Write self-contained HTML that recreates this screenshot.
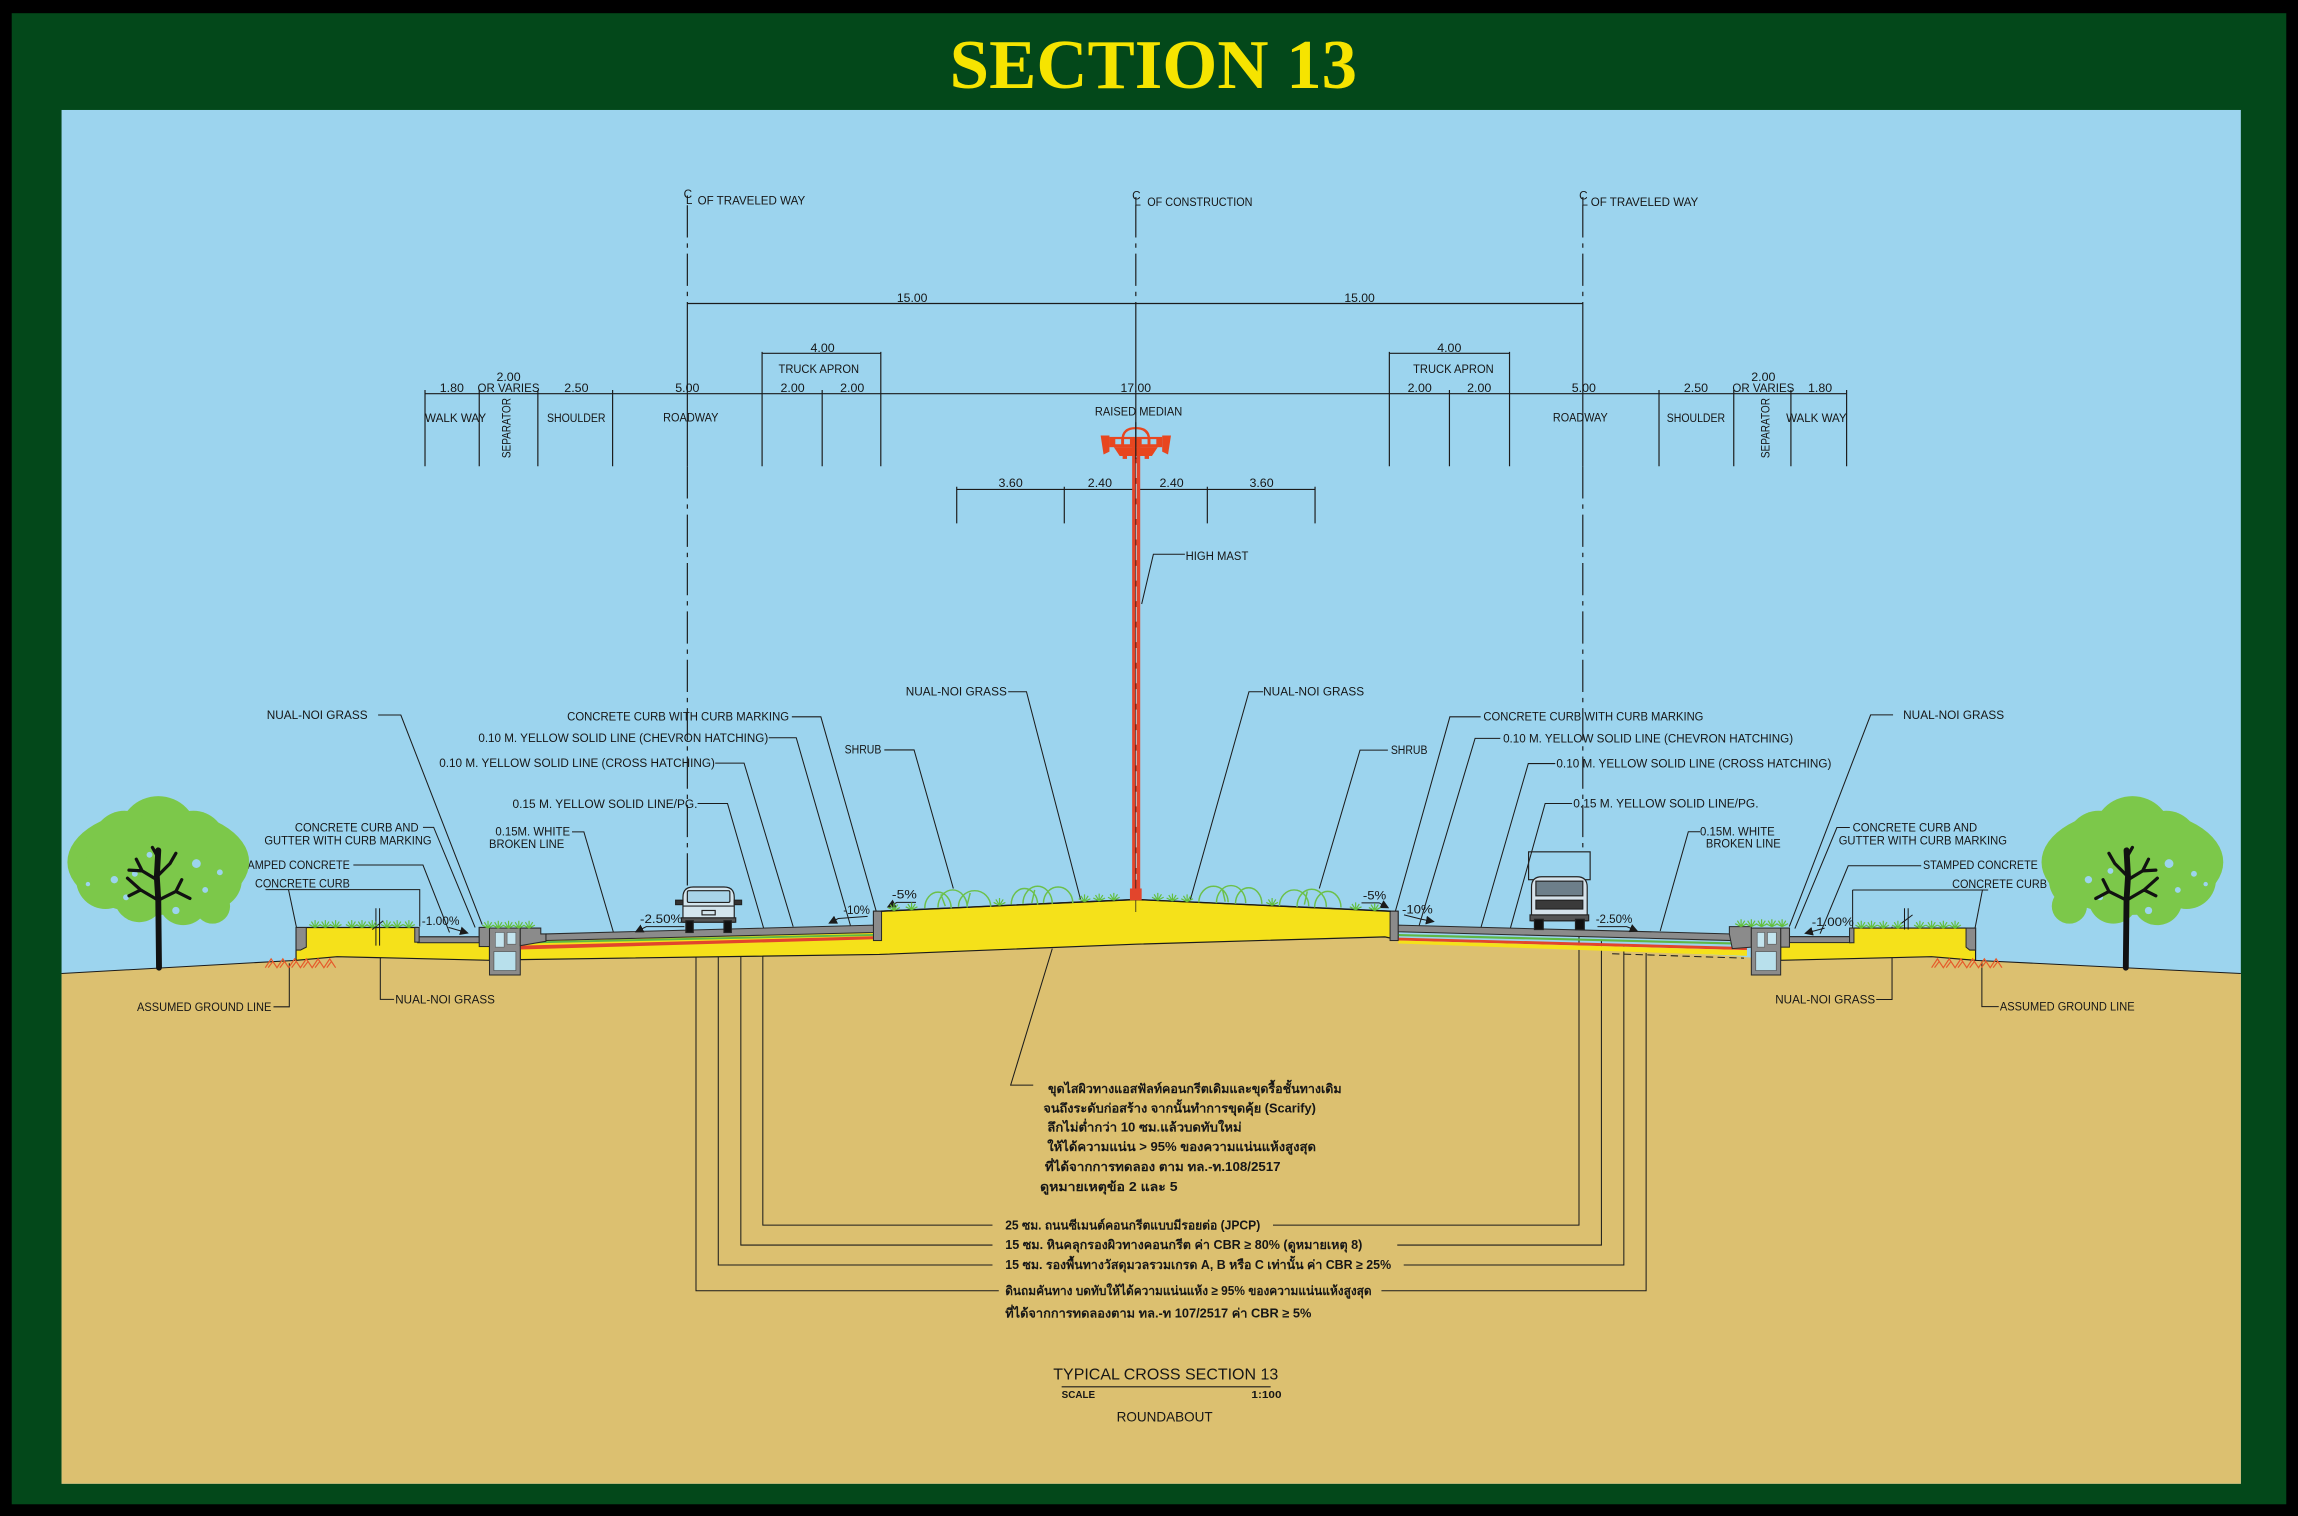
<!DOCTYPE html>
<html><head><meta charset="utf-8">
<style>
html,body{margin:0;padding:0;background:#000;}
svg{display:block;}
text{font-family:"Liberation Sans",sans-serif;fill:#161616;font-size:8px;}
.ln{stroke:#1b1b1b;stroke-width:0.7;fill:none;}
.th{font-family:"Liberation Sans","DejaVu Sans","Noto Sans CJK SC",sans-serif;font-size:8.5px;font-weight:bold;}
.g{fill:#8b8b8b;stroke:#2a2a2a;stroke-width:0.7;}
</style></head><body>
<svg width="2298" height="1516" viewBox="0 0 1568 1034" preserveAspectRatio="none" xmlns="http://www.w3.org/2000/svg">
<defs>
<g id="tuft"><path d="M0,0 L-2.5,-4 M0,0 L0,-5 M0,0 L2.5,-4 M0,0 L-4,-2 M0,0 L4,-2" stroke="#63bf3c" stroke-width="0.8" fill="none"/></g>
<marker id="ah" markerWidth="6" markerHeight="6" refX="5" refY="3" orient="auto" markerUnits="userSpaceOnUse"><path d="M0,0 L6,3 L0,6 Z" fill="#1b1b1b"/></marker>
</defs>
<!-- frame -->
<rect x="0" y="0" width="1568" height="1034" fill="#000"/>
<rect x="8" y="9" width="1552" height="1017" fill="#03481a"/>
<text x="787" y="60" text-anchor="middle" textLength="278" lengthAdjust="spacingAndGlyphs" style="font-family:'Liberation Serif',serif;font-weight:bold;font-size:48px;fill:#f6e400">SECTION 13</text>
<rect x="42" y="75" width="1487" height="937" fill="#9cd4ee"/>
<!-- ground -->
<polygon points="42,664 202,655 230,652.5 334,655 355,654.5 600,651 775,644 945,639 954,641 1182,652 1215,655 1318,652.5 1348,655 1529,664 1529,1012 42,1012" fill="#dcc070"/>
<polyline points="42,664 202,655" class="ln" stroke-width="1"/>
<polyline points="1348,655 1529,664" class="ln" stroke-width="1"/>

<!-- CL lines -->
<g stroke="#1b1b1b" stroke-width="0.8" fill="none">
<line x1="469" y1="140" x2="469" y2="207" stroke-dasharray="22 4 3 4"/>
<line x1="469" y1="207" x2="469" y2="318"/>
<line x1="469" y1="318" x2="469" y2="604" stroke-dasharray="22 4 3 4"/>
<line x1="775" y1="140" x2="775" y2="207" stroke-dasharray="22 4 3 4"/>
<line x1="775" y1="207" x2="775" y2="300"/>
<line x1="1080" y1="140" x2="1080" y2="207" stroke-dasharray="22 4 3 4"/>
<line x1="1080" y1="207" x2="1080" y2="318"/>
<line x1="1080" y1="318" x2="1080" y2="581" stroke-dasharray="22 4 3 4"/>
<!-- dims -->
<line x1="469" y1="207" x2="1080" y2="207"/>
<line x1="520" y1="241" x2="601" y2="241"/>
<line x1="948" y1="241" x2="1030" y2="241"/>
<line x1="290" y1="268.5" x2="1260" y2="268.5"/>
<path d="M290,266V318 M327,266V318 M367,266V318 M418,266V318 M520,240V318 M561,266V318 M601,240V318 M948,240V318 M989,266V318 M1030,240V318 M1132,266V318 M1183,266V318 M1222,266V318 M1260,266V318"/>
<line x1="652.8" y1="333.8" x2="897.3" y2="333.8"/>
<path d="M652.8,332V357 M726.2,332V357 M823.8,332V357 M897.3,332V357"/>
</g>
<!-- CL symbols -->
<g style="font-size:6px">
<text x="466.5" y="135">C</text><text x="468" y="139">L</text>
<text x="772.5" y="136">C</text><text x="774" y="140">L</text>
<text x="1077.5" y="136">C</text><text x="1079" y="140">L</text>
</g>
<text x="476" y="139.5" textLength="73.4" lengthAdjust="spacingAndGlyphs">OF TRAVELED WAY</text>
<text x="782.8" y="140.5" textLength="71.8" lengthAdjust="spacingAndGlyphs">OF CONSTRUCTION</text>
<text x="1085.4" y="140.5" textLength="73.4" lengthAdjust="spacingAndGlyphs">OF TRAVELED WAY</text>

<g text-anchor="middle">
<text x="622.4" y="206" textLength="20.8" lengthAdjust="spacingAndGlyphs">15.00</text>
<text x="927.7" y="206" textLength="20.8" lengthAdjust="spacingAndGlyphs">15.00</text>
<text x="561.3" y="240" textLength="16.5" lengthAdjust="spacingAndGlyphs">4.00</text>
<text x="988.9" y="240" textLength="16.5" lengthAdjust="spacingAndGlyphs">4.00</text>
<text x="558.7" y="254.5" textLength="55" lengthAdjust="spacingAndGlyphs">TRUCK APRON</text>
<text x="991.7" y="254.5" textLength="55" lengthAdjust="spacingAndGlyphs">TRUCK APRON</text>
<text x="308.3" y="267.5" textLength="16.5" lengthAdjust="spacingAndGlyphs">1.80</text>
<text x="347" y="260" textLength="16.5" lengthAdjust="spacingAndGlyphs">2.00</text>
<text x="347" y="267.5" textLength="42.3" lengthAdjust="spacingAndGlyphs">OR VARIES</text>
<text x="393.3" y="267.5" textLength="16.5" lengthAdjust="spacingAndGlyphs">2.50</text>
<text x="469" y="267.5" textLength="16.5" lengthAdjust="spacingAndGlyphs">5.00</text>
<text x="540.8" y="267.5" textLength="16.5" lengthAdjust="spacingAndGlyphs">2.00</text>
<text x="581.5" y="267.5" textLength="16.5" lengthAdjust="spacingAndGlyphs">2.00</text>
<text x="775" y="267.5" textLength="20.8" lengthAdjust="spacingAndGlyphs">17.00</text>
<text x="968.7" y="267.5" textLength="16.5" lengthAdjust="spacingAndGlyphs">2.00</text>
<text x="1009.3" y="267.5" textLength="16.5" lengthAdjust="spacingAndGlyphs">2.00</text>
<text x="1080.7" y="267.5" textLength="16.5" lengthAdjust="spacingAndGlyphs">5.00</text>
<text x="1157.2" y="267.5" textLength="16.5" lengthAdjust="spacingAndGlyphs">2.50</text>
<text x="1203.2" y="260" textLength="16.5" lengthAdjust="spacingAndGlyphs">2.00</text>
<text x="1203.2" y="267.5" textLength="42.3" lengthAdjust="spacingAndGlyphs">OR VARIES</text>
<text x="1241.9" y="267.5" textLength="16.5" lengthAdjust="spacingAndGlyphs">1.80</text>
<text x="689.6" y="332" textLength="16.5" lengthAdjust="spacingAndGlyphs">3.60</text>
<text x="750.5" y="332" textLength="16.5" lengthAdjust="spacingAndGlyphs">2.40</text>
<text x="799.4" y="332" textLength="16.5" lengthAdjust="spacingAndGlyphs">2.40</text>
<text x="860.8" y="332" textLength="16.5" lengthAdjust="spacingAndGlyphs">3.60</text>
</g>
<text x="290" y="288" textLength="41.7" lengthAdjust="spacingAndGlyphs">WALK WAY</text>
<text x="373.2" y="288" textLength="40" lengthAdjust="spacingAndGlyphs">SHOULDER</text>
<text x="452.5" y="287.5" textLength="37.7" lengthAdjust="spacingAndGlyphs">ROADWAY</text>
<text x="1059.6" y="287.5" textLength="37.4" lengthAdjust="spacingAndGlyphs">ROADWAY</text>
<text x="1137.3" y="288" textLength="39.8" lengthAdjust="spacingAndGlyphs">SHOULDER</text>
<text x="1218.7" y="288" textLength="41.3" lengthAdjust="spacingAndGlyphs">WALK WAY</text>
<text transform="translate(348.5,292) rotate(-90)" text-anchor="middle" textLength="41" lengthAdjust="spacingAndGlyphs">SEPARATOR</text>
<text transform="translate(1207.3,292) rotate(-90)" text-anchor="middle" textLength="41" lengthAdjust="spacingAndGlyphs">SEPARATOR</text>
<text x="747.1" y="283.5" textLength="59.6" lengthAdjust="spacingAndGlyphs">RAISED MEDIAN</text>
<text x="809" y="382" textLength="42.8" lengthAdjust="spacingAndGlyphs">HIGH MAST</text>
<polyline class="ln" points="808.5,378 787,378 779,412"/>

<!-- leaders left -->
<g class="ln">
<polyline points="258,487.7 273.5,487.7 329,630.6"/>
<polyline points="288.6,564.3 295.9,564.3 324.2,632.6"/>
<polyline points="241.1,590 288.6,590 306.7,636"/>
<polyline points="181.2,606.8 286.4,606.8 286.4,632"/>
<polyline points="196.9,607 202.3,632.6"/>
<polyline points="186.6,686.7 197.4,686.7 197.4,657"/>
<polyline points="268.9,681.6 259.5,681.6 259.5,632.6"/>
<polyline points="390.3,567.4 398.4,567.4 418.6,636"/>
<polyline points="476,548 496.4,548 521.1,633.2"/>
<polyline points="488,520.5 507.7,520.5 541.2,632"/>
<polyline points="524.5,503.2 543.3,503.2 580.5,632"/>
<polyline points="540.3,488.9 560.1,488.9 599.6,627.6"/>
<polyline points="603.4,511.5 623.7,511.5 650.5,606"/>
<polyline points="687.9,471.8 700.4,471.8 737.4,613.9"/>
<polyline points="861.9,471.8 852.2,471.8 812.1,614"/>
<polyline points="947,511.6 928,511.6 900.2,606"/>
<polyline points="1010.3,488.9 989.3,488.9 951.7,623"/>
<polyline points="1023.7,503.6 1006.5,503.6 968.1,632"/>
<polyline points="1061.2,520.8 1042.8,520.8 1010.3,633.3"/>
<polyline points="1072.7,548 1054.3,548 1030.6,633"/>
<polyline points="1160,567.3 1152,567.3 1132.8,635"/>
<polyline points="1291.7,487.6 1276.4,487.6 1220.9,632"/>
<polyline points="1262.2,564.4 1253.4,564.4 1224.7,633.3"/>
<polyline points="1310.9,590.5 1261.1,590.5 1241.9,636.8"/>
<polyline points="1264.1,607 1356.6,607"/>
<polyline points="1264.1,607 1264.1,633"/>
<polyline points="1352.7,607 1346.9,636.8"/>
<polyline points="1280.2,681.7 1291,681.7 1291,632"/>
<polyline points="1363.8,686.6 1352.3,686.6 1352.3,655.9"/>
</g>
<text x="182" y="490.5" textLength="68.8" lengthAdjust="spacingAndGlyphs">NUAL-NOI GRASS</text>
<text x="201.2" y="567" textLength="84.4" lengthAdjust="spacingAndGlyphs">CONCRETE CURB AND</text>
<text x="180.4" y="576" textLength="114.1" lengthAdjust="spacingAndGlyphs">GUTTER WITH CURB MARKING</text>
<text x="160" y="592.7" textLength="78.7" lengthAdjust="spacingAndGlyphs">STAMPED CONCRETE</text>
<text x="174" y="605.5" textLength="64.7" lengthAdjust="spacingAndGlyphs">CONCRETE CURB</text>
<text x="93.5" y="689.5" textLength="91.7" lengthAdjust="spacingAndGlyphs">ASSUMED GROUND LINE</text>
<text x="269.7" y="684.5" textLength="68" lengthAdjust="spacingAndGlyphs">NUAL-NOI GRASS</text>
<text x="338" y="570" textLength="51" lengthAdjust="spacingAndGlyphs">0.15M. WHITE</text>
<text x="333.7" y="578.5" textLength="51.3" lengthAdjust="spacingAndGlyphs">BROKEN LINE</text>
<text x="349.7" y="551" textLength="126.2" lengthAdjust="spacingAndGlyphs">0.15 M. YELLOW SOLID LINE/PG.</text>
<text x="299.7" y="523" textLength="188.1" lengthAdjust="spacingAndGlyphs">0.10 M. YELLOW SOLID LINE (CROSS HATCHING)</text>
<text x="326.4" y="506" textLength="197.8" lengthAdjust="spacingAndGlyphs">0.10 M. YELLOW SOLID LINE (CHEVRON HATCHING)</text>
<text x="387" y="491.5" textLength="151.4" lengthAdjust="spacingAndGlyphs">CONCRETE CURB WITH CURB MARKING</text>
<text x="576.3" y="514" textLength="25.1" lengthAdjust="spacingAndGlyphs">SHRUB</text>
<text x="618" y="474.5" textLength="69" lengthAdjust="spacingAndGlyphs">NUAL-NOI GRASS</text>
<text x="861.9" y="474.5" textLength="68.9" lengthAdjust="spacingAndGlyphs">NUAL-NOI GRASS</text>
<text x="949" y="514.3" textLength="25" lengthAdjust="spacingAndGlyphs">SHRUB</text>
<text x="1012.2" y="491.5" textLength="150.1" lengthAdjust="spacingAndGlyphs">CONCRETE CURB WITH CURB MARKING</text>
<text x="1025.6" y="506.3" textLength="197.9" lengthAdjust="spacingAndGlyphs">0.10 M. YELLOW SOLID LINE (CHEVRON HATCHING)</text>
<text x="1062" y="523.5" textLength="187.6" lengthAdjust="spacingAndGlyphs">0.10 M. YELLOW SOLID LINE (CROSS HATCHING)</text>
<text x="1073.5" y="550.7" textLength="126.4" lengthAdjust="spacingAndGlyphs">0.15 M. YELLOW SOLID LINE/PG.</text>
<text x="1160" y="570" textLength="51" lengthAdjust="spacingAndGlyphs">0.15M. WHITE</text>
<text x="1164" y="578" textLength="51" lengthAdjust="spacingAndGlyphs">BROKEN LINE</text>
<text x="1298.6" y="490.3" textLength="68.9" lengthAdjust="spacingAndGlyphs">NUAL-NOI GRASS</text>
<text x="1264.1" y="567" textLength="85" lengthAdjust="spacingAndGlyphs">CONCRETE CURB AND</text>
<text x="1254.6" y="576" textLength="114.8" lengthAdjust="spacingAndGlyphs">GUTTER WITH CURB MARKING</text>
<text x="1312.1" y="592.6" textLength="78.4" lengthAdjust="spacingAndGlyphs">STAMPED CONCRETE</text>
<text x="1332" y="605.7" textLength="64.7" lengthAdjust="spacingAndGlyphs">CONCRETE CURB</text>
<text x="1211.3" y="684.4" textLength="68.2" lengthAdjust="spacingAndGlyphs">NUAL-NOI GRASS</text>
<text x="1364.6" y="689.3" textLength="91.9" lengthAdjust="spacingAndGlyphs">ASSUMED GROUND LINE</text>

<!-- layer leader lines -->
<g class="ln">
<polyline points="520.5,636.7 520.5,835.6 677.2,835.6"/>
<polyline points="868.6,835.6 1077.4,835.6 1077.4,636"/>
<polyline points="505.5,642.4 505.5,849.2 677.2,849.2"/>
<polyline points="953.4,849.2 1092.7,849.2 1092.7,641.5"/>
<polyline points="490.1,646.2 490.1,862.8 677.2,862.8"/>
<polyline points="957.8,862.8 1108,862.8 1108,645.5"/>
<polyline points="474.9,652.5 474.9,880.4 681.5,880.4"/>
<polyline points="942.6,880.4 1123.2,880.4 1123.2,650"/>
<polyline points="718,647 689.6,740.1 705,740.1"/>
</g>
<text class="th" x="685.9" y="838.5" textLength="174" lengthAdjust="spacingAndGlyphs">25 ซม. ถนนซีเมนต์คอนกรีตแบบมีรอยต่อ (JPCP)</text>
<text class="th" x="685.9" y="852" textLength="243.7" lengthAdjust="spacingAndGlyphs">15 ซม. หินคลุกรองผิวทางคอนกรีต ค่า CBR ≥ 80%  (ดูหมายเหตุ 8)</text>
<text class="th" x="685.9" y="865.6" textLength="263.3" lengthAdjust="spacingAndGlyphs">15 ซม. รองพื้นทางวัสดุมวลรวมเกรด A, B หรือ C เท่านั้น ค่า CBR ≥ 25%</text>
<text class="th" x="685.9" y="883.2" textLength="250" lengthAdjust="spacingAndGlyphs">ดินถมคันทาง บดทับให้ได้ความแน่นแห้ง ≥ 95% ของความแน่นแห้งสูงสุด</text>
<text class="th" x="685.9" y="898.6" textLength="208.9" lengthAdjust="spacingAndGlyphs">ที่ได้จากการทดลองตาม ทล.-ท 107/2517 ค่า CBR ≥ 5%</text>

<text class="th" x="715.1" y="745.5" textLength="200.3" lengthAdjust="spacingAndGlyphs">ขุดไสผิวทางแอสฟัลท์คอนกรีตเดิมและขุดรื้อชั้นทางเดิม</text>
<text class="th" x="711.9" y="758.7" textLength="186" lengthAdjust="spacingAndGlyphs">จนถึงระดับก่อสร้าง จากนั้นทำการขุดคุ้ย (Scarify)</text>
<text class="th" x="714.6" y="771.7" textLength="132.6" lengthAdjust="spacingAndGlyphs">ลึกไม่ต่ำกว่า 10 ซม.แล้วบดทับใหม่</text>
<text class="th" x="714.6" y="785.2" textLength="183.3" lengthAdjust="spacingAndGlyphs">ให้ได้ความแน่น &gt; 95% ของความแน่นแห้งสูงสุด</text>
<text class="th" x="713" y="798.8" textLength="160.8" lengthAdjust="spacingAndGlyphs">ที่ได้จากการทดลอง ตาม ทล.-ท.108/2517</text>
<text class="th" x="709.6" y="812.5" textLength="93.9" lengthAdjust="spacingAndGlyphs">ดูหมายเหตุข้อ 2 และ 5</text>

<!-- bottom title -->
<text x="718.7" y="941" textLength="153.5" lengthAdjust="spacingAndGlyphs" style="font-size:11px">TYPICAL CROSS SECTION 13</text>
<line x1="724.4" y1="945.9" x2="867" y2="945.9" stroke="#1b1b1b" stroke-width="0.8"/>
<text x="724.4" y="953.5" textLength="22.8" lengthAdjust="spacingAndGlyphs" style="font-size:7px;font-weight:bold">SCALE</text>
<text x="853.9" y="953.5" textLength="20.5" lengthAdjust="spacingAndGlyphs" style="font-size:7px;font-weight:bold">1:100</text>
<text x="761.9" y="969.5" textLength="65.5" lengthAdjust="spacingAndGlyphs" style="font-size:9.5px">ROUNDABOUT</text>

<!-- ===== road structure ===== -->
<!-- central yellow body -->
<polygon points="355,640 596,634 596,621.5 601,621.5 775,613.5 949,621.5 954,621.5 954,641 945,639 775,644 600,651 355,654.5" fill="#f5e11a" stroke="#1b1b1b" stroke-width="0.8"/>
<!-- left pavement -->
<polygon points="372.5,637 596,631 596,636 372.5,641.5" class="g"/>
<polygon points="355,642.3 596,637 596,638.3 355,643.6" fill="#5fb845"/>
<polygon points="355,645 596,638.6 596,640.6 355,647.6" fill="#e2452c"/>
<rect x="596" y="621.5" width="5.5" height="20" class="g"/>
<!-- right pavement -->
<polygon points="954,631 1182,637 1182,641.5 954,635.5" class="g"/>
<polygon points="954,637 1192,643 1192,644.5 954,638.5" fill="#5fb845"/>
<polygon points="954,639.5 1192,646 1192,648 954,641.5" fill="#e2452c"/>
<polygon points="954,641.5 1192,648 1192,652 954,643.5" fill="#f5e11a"/>
<line x1="1100" y1="650.5" x2="1190" y2="653.5" stroke="#1b1b1b" stroke-width="0.7" stroke-dasharray="5 3"/>
<rect x="948.5" y="621.5" width="5.5" height="20" class="g"/>
<polyline points="601,621.5 775,613.5 949,621.5" fill="none" stroke="#1b1b1b" stroke-width="1"/>

<!-- left walkway -->
<polygon points="202,632.6 285,632.6 285,639 327,639 327,632.6 334,632.6 334,655 230,652.5 202,655" fill="#f5e11a" stroke="#1b1b1b" stroke-width="0.8"/>
<polygon points="202,632.6 209,632.6 209,646 205,648 202,648" class="g"/>
<rect x="285" y="639" width="42" height="4" class="g"/>
<rect x="283" y="632.6" width="3" height="10" class="g"/>
<rect x="327" y="632.6" width="7" height="13" class="g"/>
<rect x="334" y="633" width="21" height="32" class="g"/>
<rect x="337" y="649" width="15" height="13" fill="#b8e0ec" stroke="#555" stroke-width="0.5"/>
<rect x="338" y="636" width="6" height="10" fill="#c3e4ee" stroke="#555" stroke-width="0.4"/>
<rect x="346" y="636" width="6" height="8" fill="#c3e4ee" stroke="#555" stroke-width="0.4"/>
<polygon points="355,633 369,633 369,637 372.5,637 372.5,642 355,645" class="g"/>
<!-- right walkway -->
<polygon points="1215,633 1221,633 1221,638.9 1263,638.9 1263,633 1348,633 1348,655 1318,652.5 1215,655" fill="#f5e11a" stroke="#1b1b1b" stroke-width="0.8"/>
<rect x="1221" y="638.9" width="42" height="4" class="g"/>
<rect x="1262" y="633" width="3" height="10" class="g"/>
<rect x="1215" y="633" width="6" height="13" class="g"/>
<polygon points="1341.5,633 1348,633 1348,648 1344,648 1341.5,646" class="g"/>
<polygon points="1180,637 1180,632 1195,632 1195,646 1182,647" class="g"/>
<rect x="1195" y="633" width="20" height="32" class="g"/>
<rect x="1198" y="649" width="14" height="13" fill="#b8e0ec" stroke="#555" stroke-width="0.5"/>
<rect x="1199" y="636" width="5" height="10" fill="#c3e4ee" stroke="#555" stroke-width="0.4"/>
<rect x="1206" y="636" width="6" height="8" fill="#c3e4ee" stroke="#555" stroke-width="0.4"/>

<!-- breaks -->
<path d="M256.5,619.5V645 M259,619.5V645 M254,634 L261.5,628" class="ln"/>
<path d="M1299.5,619.5V634 M1302,619.5V634 M1297,630 L1305,624" class="ln"/>
<!-- ground hatch -->
<path d="M181,660 l4,-6 l4,6 l4,-6 l4,6 l4,-6 l4,6 l4,-6 l4,6 l4,-6 l4,6 l4,-6 l4,6 M183,660 l3,-4 M191,660 l3,-4 M199,660 l3,-4 M207,660 l3,-4 M215,660 l3,-4 M223,660 l3,-4" stroke="#e65a2a" stroke-width="0.8" fill="none"/>
<path d="M1318,660 l4,-6 l4,6 l4,-6 l4,6 l4,-6 l4,6 l4,-6 l4,6 l4,-6 l4,6 l4,-6 l4,6 M1320,660 l3,-4 M1328,660 l3,-4 M1336,660 l3,-4 M1344,660 l3,-4 M1352,660 l3,-4 M1360,660 l3,-4" stroke="#e65a2a" stroke-width="0.8" fill="none"/>

<!-- slope labels -->
<g style="font-size:7.5px">
<text x="436.7" y="629.5" textLength="29" lengthAdjust="spacingAndGlyphs">-2.50%</text>
<text x="575.4" y="623.5" textLength="18.2" lengthAdjust="spacingAndGlyphs">-10%</text>
<text x="608.6" y="613" textLength="17" lengthAdjust="spacingAndGlyphs">-5%</text>
<text x="929.9" y="613.5" textLength="16" lengthAdjust="spacingAndGlyphs">-5%</text>
<text x="956.6" y="623" textLength="21" lengthAdjust="spacingAndGlyphs">-10%</text>
<text x="1088.8" y="629.5" textLength="25" lengthAdjust="spacingAndGlyphs">-2.50%</text>
<text x="287.8" y="631" textLength="25.7" lengthAdjust="spacingAndGlyphs">-1.00%</text>
<text x="1236.2" y="631.5" textLength="28.7" lengthAdjust="spacingAndGlyphs">-1.00%</text>
</g>
<g class="ln">
<polyline points="467,632 441,632 434,635.5" marker-end="url(#ah)"/>
<polyline points="592,625 572,626.5 566,629.5" marker-end="url(#ah)"/>
<polyline points="625,615.5 612,615.5 606,618.5" marker-end="url(#ah)"/>
<polyline points="929,615.8 941,615.8 947,619" marker-end="url(#ah)"/>
<polyline points="958,624 970,627 978,628.5" marker-end="url(#ah)"/>
<polyline points="1090,632 1110,632 1117,635" marker-end="url(#ah)"/>
<polyline points="306,632.5 318.9,636.3" marker-end="url(#ah)"/>
<polyline points="1245,633 1232,636.5" marker-end="url(#ah)"/>
</g>

<!-- shrubs -->
<g stroke="#6cc04a" stroke-width="1" fill="none">
<path d="M631,619.5 a9,11 0 0 1 18,0 M640,619 a10,12 0 0 1 20,0 M654,618.5 a11,11 0 0 1 22,0 M645,618 l-3,-8 M660,617 l2,-8"/>
<path d="M690,617 a9,11 0 0 1 18,0 M698,616.5 a10,12 0 0 1 20,0 M712,616 a10,11 0 0 1 20,0 M704,616 l2,-9"/>
<path d="M818,615.5 a10,11 0 0 1 20,0 M830,616 a10,12 0 0 1 20,0 M843,616.5 a9,11 0 0 1 18,0 M836,615 l-2,-9"/>
<path d="M873,618 a10,11 0 0 1 20,0 M885,618.5 a10,12 0 0 1 20,0 M897,619 a9,11 0 0 1 18,0 M890,617 l2,-9"/>
</g>
<!-- grass tufts -->
<g>
<use href="#tuft" x="215" y="632.6"/><use href="#tuft" x="222" y="632.6"/><use href="#tuft" x="229" y="632.6"/><use href="#tuft" x="240" y="632.6"/><use href="#tuft" x="247" y="632.6"/><use href="#tuft" x="254" y="632.6"/><use href="#tuft" x="264" y="632.6"/><use href="#tuft" x="271" y="632.6"/><use href="#tuft" x="279" y="632.6"/>
<use href="#tuft" x="333" y="633"/><use href="#tuft" x="340" y="633"/><use href="#tuft" x="347" y="633"/><use href="#tuft" x="354" y="633"/><use href="#tuft" x="361" y="633"/>
<use href="#tuft" x="610" y="621"/><use href="#tuft" x="622" y="620.5"/><use href="#tuft" x="682" y="617.5"/><use href="#tuft" x="740" y="615"/><use href="#tuft" x="750" y="614.5"/><use href="#tuft" x="760" y="614"/><use href="#tuft" x="790" y="614"/><use href="#tuft" x="800" y="614.5"/><use href="#tuft" x="810" y="615"/><use href="#tuft" x="868" y="617.5"/><use href="#tuft" x="925" y="620.5"/><use href="#tuft" x="938" y="621"/>
<use href="#tuft" x="1188" y="632"/><use href="#tuft" x="1195" y="632"/><use href="#tuft" x="1202" y="632"/><use href="#tuft" x="1209" y="632"/><use href="#tuft" x="1216" y="632"/>
<use href="#tuft" x="1270" y="633"/><use href="#tuft" x="1277" y="633"/><use href="#tuft" x="1285" y="633"/><use href="#tuft" x="1295" y="633"/><use href="#tuft" x="1310" y="633"/><use href="#tuft" x="1318" y="633"/><use href="#tuft" x="1326" y="633"/><use href="#tuft" x="1334" y="633"/>
</g>

<!-- high mast -->
<rect x="772.5" y="300" width="5.5" height="313" fill="#e2452c"/>
<line x1="775.2" y1="302" x2="775.2" y2="600" stroke="#f3d2d2" stroke-width="1.2" stroke-dasharray="10 4"/>
<line x1="775" y1="300" x2="775" y2="622" stroke="#1b1b1b" stroke-width="0.5"/>
<rect x="771" y="606" width="8" height="8" fill="#e2452c"/>
<g fill="#e8461f">
<path d="M766,300 Q766,292 775,292 Q784,292 784,300" fill="none" stroke="#e8461f" stroke-width="1.6"/>
<rect x="757" y="298" width="36" height="7"/>
<polygon points="751,297 757,297 757,308 753,310"/>
<polygon points="793,297 799,297 797,310 793,308"/>
<polygon points="760,305 790,305 786,311 764,311"/>
<rect x="766" y="310" width="3" height="3"/><rect x="781" y="310" width="3" height="3"/>
</g>
<g fill="#9cd4ee">
<rect x="761" y="299.5" width="4" height="3.5"/><rect x="767" y="299.5" width="4" height="3.5"/><rect x="779" y="299.5" width="4" height="3.5"/><rect x="785" y="299.5" width="4" height="3.5"/>
</g>
<line x1="775" y1="288" x2="775" y2="313" stroke="#1b1b1b" stroke-width="0.8"/>

<!-- left van -->
<g stroke="#222" stroke-width="0.8">
<path d="M466,629 L466,612 Q466,605 473,605 L494,605 Q501,605 501,612 L501,629 Z" fill="#d3e5ee"/>
<rect x="469" y="607.5" width="29" height="8" rx="1" fill="#a9d3e8"/>
<rect x="461" y="614" width="5" height="3" fill="#333"/>
<rect x="501" y="614" width="5" height="3" fill="#333"/>
<line x1="466" y1="618" x2="501" y2="618"/>
<rect x="479" y="621" width="9" height="3" fill="none"/>
<rect x="465" y="626" width="37" height="3" fill="#555"/>
<rect x="468" y="628" width="5" height="8" fill="#111"/>
<rect x="494" y="628" width="5" height="8" fill="#111"/>
</g>
<!-- right truck -->
<g stroke="#222" stroke-width="0.8">
<rect x="1043" y="581" width="42" height="19" fill="none"/>
<path d="M1045,628 L1045,605 Q1045,598 1052,598 L1076,598 Q1083,598 1083,605 L1083,628 Z" fill="#d5e2ea"/>
<rect x="1048" y="601" width="32" height="10" fill="#6d7f8a"/>
<rect x="1048" y="614" width="32" height="6" fill="#3a3a3a"/>
<rect x="1044" y="624" width="40" height="4" fill="#555"/>
<rect x="1047" y="627" width="6" height="7" fill="#111"/>
<rect x="1075" y="627" width="6" height="7" fill="#111"/>
</g>

<!-- left tree -->
<g fill="#7cc84a">
<ellipse cx="108" cy="588" rx="62" ry="36"/>
<circle cx="108" cy="570" r="27"/>
<circle cx="85" cy="575" r="22"/>
<circle cx="132" cy="575" r="22"/>
<circle cx="72" cy="600" r="20"/>
<circle cx="145" cy="600" r="20"/>
<circle cx="95" cy="612" r="17"/>
<circle cx="125" cy="614" r="17"/>
<circle cx="145" cy="618" r="12"/>
</g>
<g fill="#9cd4ee">
<circle cx="78" cy="600" r="2.5"/><circle cx="92" cy="596" r="2"/><circle cx="134" cy="589" r="3"/><circle cx="150" cy="595" r="2"/><circle cx="86" cy="612" r="2"/><circle cx="120" cy="621" r="2.5"/><circle cx="60" cy="603" r="1.5"/><circle cx="140" cy="607" r="2"/><circle cx="102" cy="583" r="2"/>
</g>
<g stroke="#111" fill="none" stroke-linecap="round">
<path d="M108.5,660 L108,614 L107,598 L108,580" stroke-width="4"/>
<path d="M108,614 L96,607 L87,599 M96,607 L88,611 M108,614 L120,608 L129.6,612.8 M120,608 L124,600 M107,600 L97,594 L88,593.5 M97,594 L93,586 M107,598 L116,589 L120,582 M108,585 L104,578" stroke-width="2.2"/>
</g>
<!-- right tree -->
<g fill="#7cc84a">
<ellipse cx="1455" cy="588" rx="62" ry="36"/>
<circle cx="1455" cy="570" r="27"/>
<circle cx="1432" cy="575" r="22"/>
<circle cx="1478" cy="575" r="22"/>
<circle cx="1418" cy="600" r="20"/>
<circle cx="1492" cy="600" r="20"/>
<circle cx="1442" cy="613" r="17"/>
<circle cx="1472" cy="614" r="17"/>
<circle cx="1412" cy="618" r="12"/>
</g>
<g fill="#9cd4ee">
<circle cx="1425" cy="600" r="2.5"/><circle cx="1440" cy="594" r="2"/><circle cx="1480" cy="589" r="3"/><circle cx="1497" cy="596" r="2"/><circle cx="1433" cy="612" r="2"/><circle cx="1466" cy="621" r="2.5"/><circle cx="1505" cy="603" r="1.5"/><circle cx="1486" cy="607" r="2"/>
</g>
<g stroke="#111" fill="none" stroke-linecap="round">
<path d="M1450.5,660 L1451,614 L1452,598 L1451,580" stroke-width="4"/>
<path d="M1451,614 L1463,607 L1472,599 M1463,607 L1471,611 M1451,614 L1439,608 L1430,612.8 M1439,608 L1435,600 M1452,600 L1462,594 L1471,593.5 M1462,594 L1466,586 M1452,598 L1443,589 L1439,582 M1451,585 L1455,578" stroke-width="2.2"/>
</g>
</svg>
</body></html>
